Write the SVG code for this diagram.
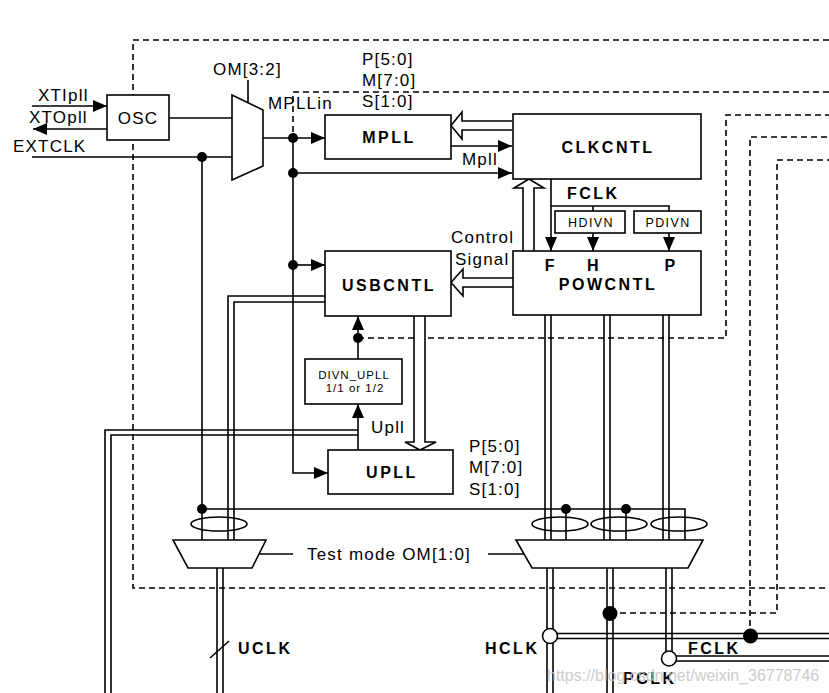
<svg xmlns="http://www.w3.org/2000/svg" width="829" height="693" viewBox="0 0 829 693">
<style>
  .bx{fill:#fff;stroke:#000;stroke-width:1.6}
  .ln{fill:none;stroke:#000;stroke-width:1.6}
  .dl{fill:none;stroke:#000;stroke-width:1.6}
  .ds{fill:none;stroke:#000;stroke-width:1.6;stroke-dasharray:6,4}
  .ha{fill:#fff;stroke:#000;stroke-width:1.6;stroke-linejoin:miter}
  .el{fill:none;stroke:#000;stroke-width:1.6}
  .dot{fill:#000}
  .oc{fill:#fff;stroke:#000;stroke-width:1.6}
  text{font-family:"Liberation Sans",Arial,sans-serif;fill:#000}
  .t{font-size:17px;letter-spacing:1.2px}
  .b{font-size:16px;font-weight:bold;letter-spacing:2.5px}
  .s{font-size:12.5px;letter-spacing:1.4px}
  .xs{font-size:11.5px;letter-spacing:1px}
  .wm{font-size:16px;fill:#c4c4c4;opacity:0.85}
</style>
<defs>
  <marker id="ah" markerWidth="14" markerHeight="12" refX="14" refY="6" orient="auto" markerUnits="userSpaceOnUse">
    <path d="M0,0 L14,6 L0,12 z" fill="#000"/>
  </marker>
</defs>

<!-- dashed boundaries -->
<g id="boundaries">
  <path class="ds" d="M829,40 H133 V588 H829"/>
  <path class="ds" d="M293,132 V92 H829"/>
  <path class="ds" d="M358,338 H726 V115 H829"/>
  <path class="ds" d="M750,636 V137 H829"/>
  <path class="ds" d="M610,613 H777 V160 H829"/>
</g>

<g id="connectors">
  <!-- inputs -->
  <path class="ln" d="M32,106 H107" marker-end="url(#ah)"/>
  <path class="ln" d="M107,129 H33" marker-end="url(#ah)"/>
  <path class="ln" d="M32,157 H232"/>
  <path class="ln" d="M169,118 H232"/>
  <path class="ln" d="M248,80 V102"/>
  <!-- mux out -->
  <path class="ln" d="M263,138 H325" marker-end="url(#ah)"/>
  <path class="ln" d="M293,138 V473 H328" marker-end="url(#ah)"/>
  <path class="ln" d="M293,173 H512" marker-end="url(#ah)"/>
  <path class="ln" d="M293,265 H325" marker-end="url(#ah)"/>
  <path class="ln" d="M451,146 H512" marker-end="url(#ah)"/>
  <!-- FCLK -->
  <path class="ln" d="M551,179 V251" marker-end="url(#ah)"/>
  <path class="ln" d="M551,206 H669 V211"/>
  <path class="ln" d="M593,206 V211"/>
  <path class="ln" d="M593,233 V251" marker-end="url(#ah)"/>
  <path class="ln" d="M669,233 V251" marker-end="url(#ah)"/>
  <!-- UPLL / DIVN -->
  <path class="ln" d="M358,359 V316" marker-end="url(#ah)"/>
  <path class="ln" d="M358,450 V404" marker-end="url(#ah)"/>
  <!-- EXTCLK vertical and test bus -->
  <path class="ln" d="M202,157 V540"/>
  <path class="ln" d="M202,509 H685 V540"/>
  <path class="ln" d="M566,509 V540"/>
  <path class="ln" d="M626,509 V540"/>
  <!-- double lines -->
  <path class="dl" d="M325,296 H228 V540"/>
  <path class="dl" d="M325,302 H234 V540"/>
  <path class="dl" d="M358,430 H105 V693"/>
  <path class="dl" d="M358,435 H111 V693"/>
  <path class="dl" d="M217,568 V693"/>
  <path class="dl" d="M223,568 V693"/>
  <path class="dl" d="M545,315 V540"/>
  <path class="dl" d="M551,315 V540"/>
  <path class="dl" d="M604,315 V540"/>
  <path class="dl" d="M610,315 V540"/>
  <path class="dl" d="M663,315 V540"/>
  <path class="dl" d="M669,315 V540"/>
  <path class="dl" d="M547,568 V693"/>
  <path class="dl" d="M553,568 V693"/>
  <path class="dl" d="M607,568 V693"/>
  <path class="dl" d="M613,568 V693"/>
  <path class="dl" d="M666,568 V652"/>
  <path class="dl" d="M672,568 V652"/>
  <path class="dl" d="M556,633.5 H829"/>
  <path class="dl" d="M556,638.5 H829"/>
  <path class="dl" d="M676,656 H829"/>
  <path class="dl" d="M676,661 H829"/>
  <!-- hollow arrows -->
  <path class="ha" d="M512,121 H462 V112 L451,125.5 L462,139 V130 H512"/>
  <path class="ha" d="M523,251 V188 H514 L529,179 L544,188 H534 V251"/>
  <path class="ha" d="M513,278 H463 V269 L451,282.5 L463,296 V287 H513"/>
  <path class="ha" d="M414,316 V442 H405 L420,450 L436,442 H425 V316"/>
  <!-- test mode select -->
  <path class="ln" d="M259,554 H293"/>
  <path class="ln" d="M488,554 H524"/>
  <!-- UCLK slash -->
  <path class="ln" d="M210,658 L229,641"/>
  <!-- dots -->
  <circle class="dot" cx="202" cy="157" r="5"/>
  <circle class="dot" cx="293" cy="138" r="5"/>
  <circle class="dot" cx="293" cy="173" r="5"/>
  <circle class="dot" cx="293" cy="265" r="5"/>
  <circle class="dot" cx="358" cy="338" r="5"/>
  <circle class="dot" cx="202" cy="509" r="5"/>
  <circle class="dot" cx="566" cy="509" r="5"/>
  <circle class="dot" cx="626" cy="509" r="5"/>
  <circle class="dot" cx="610" cy="613.5" r="7.5"/>
  <circle class="dot" cx="750.5" cy="636" r="7.5"/>
  <circle class="oc" cx="550" cy="636" r="7.5"/>
  <circle class="oc" cx="669" cy="658.5" r="7.5"/>
</g>

<g id="osc">
  <rect class="bx" x="107" y="95" width="62" height="45"/>
  <text class="t" x="138" y="124" text-anchor="middle">OSC</text>
</g>
<g id="mux_mpll">
  <polygon class="bx" points="232,95 263,110 263,166 232,180"/>
</g>
<g id="mpll">
  <rect class="bx" x="325" y="115" width="126" height="44"/>
  <text class="b" x="389" y="143" text-anchor="middle">MPLL</text>
</g>
<g id="clkcntl">
  <rect class="bx" x="513" y="114" width="188" height="65"/>
  <text class="b" x="608" y="153" text-anchor="middle">CLKCNTL</text>
</g>
<g id="hdivn">
  <rect class="bx" x="555" y="211" width="70" height="22"/>
  <text class="s" x="591" y="227" text-anchor="middle">HDIVN</text>
</g>
<g id="pdivn">
  <rect class="bx" x="634" y="211" width="67" height="22"/>
  <text class="s" x="668" y="227" text-anchor="middle">PDIVN</text>
</g>
<g id="powcntl">
  <rect class="bx" x="513" y="251" width="188" height="64"/>
  <text class="b" x="551" y="271" text-anchor="middle">F</text>
  <text class="b" x="594" y="271" text-anchor="middle">H</text>
  <text class="b" x="671" y="271" text-anchor="middle">P</text>
  <text class="b" x="608" y="290" text-anchor="middle">POWCNTL</text>
</g>
<g id="usbcntl">
  <rect class="bx" x="325" y="251" width="126" height="65"/>
  <text class="b" x="389" y="291" text-anchor="middle">USBCNTL</text>
</g>
<g id="divn_upll">
  <rect class="bx" x="305" y="359" width="97" height="45"/>
  <text class="xs" x="354" y="379" text-anchor="middle">DIVN_UPLL</text>
  <text class="xs" x="355" y="392" text-anchor="middle">1/1 or 1/2</text>
</g>
<g id="upll">
  <rect class="bx" x="328" y="450" width="125" height="44"/>
  <text class="b" x="392" y="478" text-anchor="middle">UPLL</text>
</g>
<g id="mux_uclk">
  <polygon class="bx" points="173,540 266,540 252,568 188,568"/>
  <ellipse class="el" cx="219" cy="524" rx="28" ry="7"/>
</g>
<g id="mux_hfp">
  <polygon class="bx" points="516,540 703,540 688,568 532,568"/>
  <ellipse class="el" cx="560" cy="524" rx="28" ry="7"/>
  <ellipse class="el" cx="619" cy="524" rx="28" ry="7"/>
  <ellipse class="el" cx="679" cy="524" rx="28" ry="7"/>
</g>

<g id="labels">
  <text class="t" x="38" y="101">XTIpll</text>
  <text class="t" x="29" y="123">XTOpll</text>
  <text class="t" x="13" y="152">EXTCLK</text>
  <text class="t" x="213" y="75">OM[3:2]</text>
  <text class="t" x="268" y="109">MPLLin</text>
  <text class="t" x="362" y="65">P[5:0]</text>
  <text class="t" x="362" y="86">M[7:0]</text>
  <text class="t" x="362" y="107">S[1:0]</text>
  <text class="t" x="462" y="165">Mpll</text>
  <text class="b" x="567" y="199">FCLK</text>
  <text class="t" x="451" y="243">Control</text>
  <text class="t" x="455" y="265">Signal</text>
  <text class="t" x="371" y="433">Upll</text>
  <text class="t" x="469" y="452">P[5:0]</text>
  <text class="t" x="469" y="473">M[7:0]</text>
  <text class="t" x="469" y="495">S[1:0]</text>
  <text class="t" x="307" y="560">Test mode OM[1:0]</text>
  <text class="b" x="238" y="654">UCLK</text>
  <text class="b" x="485" y="654">HCLK</text>
  <text class="b" x="688" y="654">FCLK</text>
  <text class="b" x="623" y="684">PCLK</text>
  <text class="wm" x="547" y="681">https://blog.csdn.net/weixin_36778746</text>
</g>
</svg>
